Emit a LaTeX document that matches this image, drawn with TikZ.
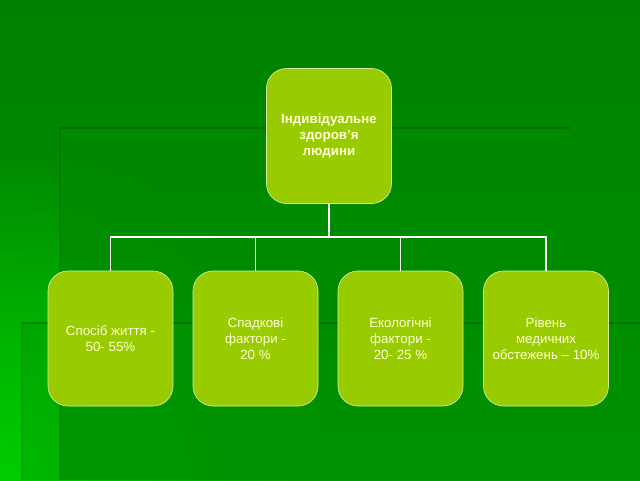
\documentclass[tikz,border=0pt]{standalone}
\usepackage{fontspec}
\setmainfont{Liberation Sans}
\usetikzlibrary{fadings}
\definecolor{bgtop}{RGB}{0,128,0}
\definecolor{bgmid}{RGB}{0,152,0}
\definecolor{bgleft}{RGB}{0,205,0}
\definecolor{panelA}{RGB}{0,138,0}
\definecolor{panelB}{RGB}{0,150,0}
\definecolor{boxfill}{RGB}{153,204,0}
\definecolor{boxedge}{RGB}{215,236,160}
\definecolor{txt}{RGB}{255,255,210}
\definecolor{edgedark}{RGB}{0,90,0}
\tikzfading[name=cornerfade, inner color=transparent!0, outer color=transparent!100]
\begin{document}
\begin{tikzpicture}[x=0.75pt,y=-0.75pt,
  box/.style={draw=boxedge, line width=0.5pt, fill=boxfill, rounded corners=15pt,
    minimum width=93.75pt, minimum height=101.25pt, align=center,
    text=txt, font=\fontsize{10}{12}\selectfont, inner sep=2pt},
  conn/.style={draw=white, line width=1.3pt}]
\useasboundingbox (0,0) rectangle (640,480);
% background
\begin{scope}
\clip (0,0) rectangle (640,480);
\shade[top color=bgtop, bottom color=bgmid] (0,0) rectangle (640,480);
\fill[bgleft, path fading=cornerfade, fit fading=true] (0,480) circle (330);
\end{scope}
% overlay panels
\fill[panelA, opacity=0.75] (60,128) rectangle (640,480);
\fill[panelB, opacity=0.35] (22,323) rectangle (640,480);
\draw[edgedark, opacity=0.55, line width=1.5pt] (60,128) -- (570,128);
\draw[edgedark, opacity=0.25, line width=1pt] (60,128) -- (60,480);
\draw[edgedark, opacity=0.5, line width=1.5pt] (22,323) -- (640,323);
\draw[edgedark, opacity=0.2, line width=1pt] (22,323) -- (22,480);
% boxes
\node[box, font=\fontsize{10}{12}\selectfont\bfseries] (top) at (329,136) {Індивідуальне\\здоров’я\\людини};
\node[box] (b1) at (110.5,338.5) {Спосіб життя -\\50- 55\%};
\node[box] (b2) at (255.5,338.5) {Спадкові\\фактори -\\20 \%};
\node[box] (b3) at (400.5,338.5) {Екологічні\\фактори -\\ 20- 25 \%};
\node[box] (b4) at (546,338.5) {Рівень\\медичних\\обстежень – 10\%};
% connectors
\coordinate (bus) at (329,237);
\draw[conn] (top.south) -- (bus);
\draw[conn] (b1.north) |- (bus);
\draw[conn] (b2.north) |- (bus);
\draw[conn] (b3.north) |- (bus);
\draw[conn] (b4.north) |- (bus);
\end{tikzpicture}
\end{document}
